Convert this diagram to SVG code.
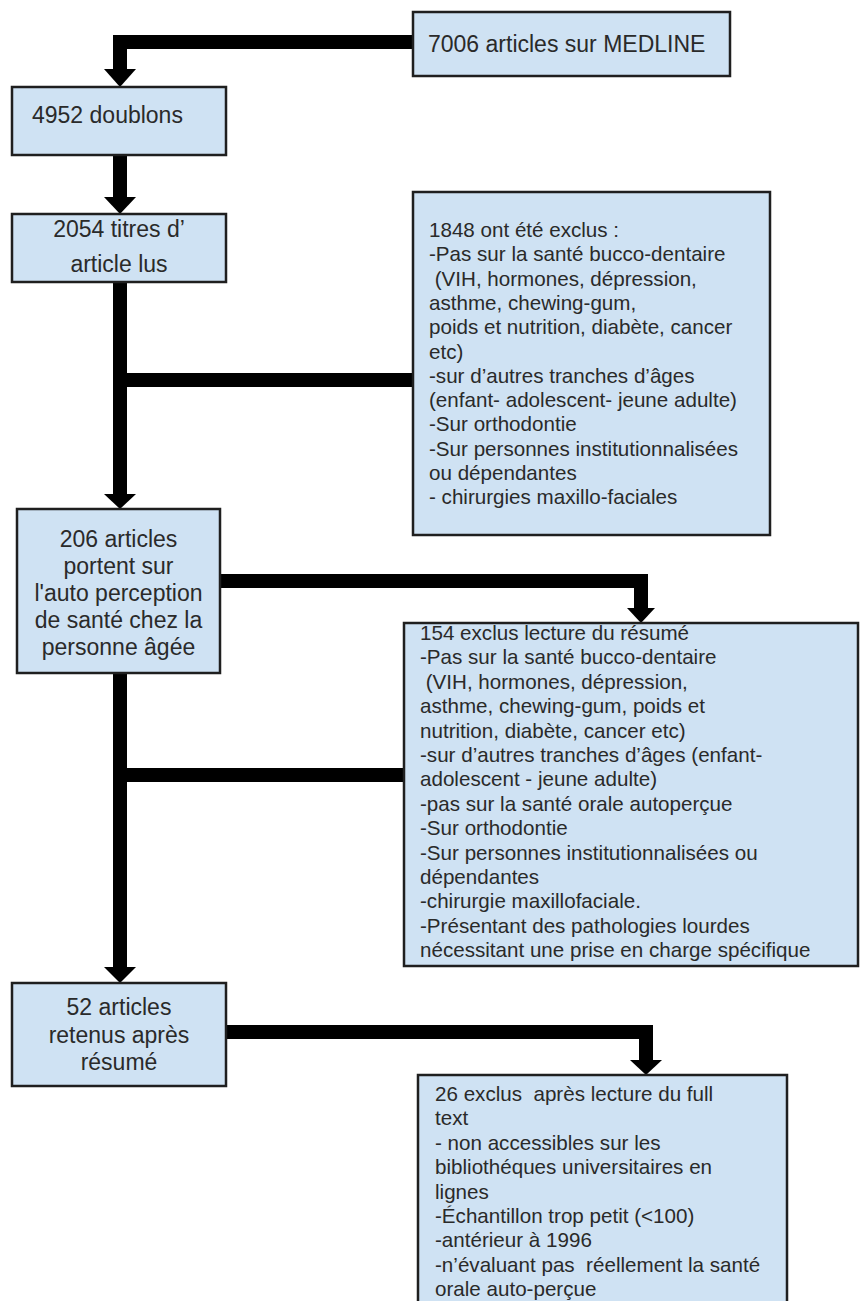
<svg xmlns="http://www.w3.org/2000/svg" width="860" height="1301" viewBox="0 0 860 1301">
<style>
.box{fill:#cfe2f3;stroke:#1f1f1f;stroke-width:2.5}
.t{font-family:"Liberation Sans",Arial,sans-serif;fill:#2a2a2a}
.big{font-size:23px}
.sm{font-size:20.6px}
.c{text-anchor:middle}
.ln{fill:none;stroke:#000;stroke-width:14;stroke-linejoin:miter}
.ah{fill:#000}
</style>
<rect width="860" height="1301" fill="#fff"/>
<g id="connectors">
<path class="ln" d="M413 42 H120 V71"/>
<polygon class="ah" points="104,69 136,69 120,87"/>
<path class="ln" d="M120 155 V199"/>
<polygon class="ah" points="104,197 136,197 120,214"/>
<path class="ln" d="M120 282 V496"/>
<polygon class="ah" points="104,494 136,494 120,509"/>
<path class="ln" d="M113 380 H413"/>
<path class="ln" d="M220 581 H641 V610"/>
<polygon class="ah" points="627,608 655,608 641,623"/>
<path class="ln" d="M120 673 V969"/>
<polygon class="ah" points="104,967 136,967 120,983"/>
<path class="ln" d="M113 775 H404"/>
<path class="ln" d="M226 1032 H646 V1062"/>
<polygon class="ah" points="630,1060 662,1060 646,1075"/>
</g>
<g id="n1">
<rect class="box" x="413" y="12" width="317" height="64"/>
<text class="t big" x="428" y="52">7006 articles sur MEDLINE</text>
</g>
<g id="n2">
<rect class="box" x="12" y="87" width="214" height="68"/>
<text class="t big" x="32" y="123">4952 doublons</text>
</g>
<g id="n3">
<rect class="box" x="12" y="214" width="214" height="68"/>
<text class="t big c" x="119" y="237">2054 titres d’</text>
<text class="t big c" x="119" y="272">article lus</text>
</g>
<g id="n4">
<rect class="box" x="17" y="509" width="203" height="164"/>
<text class="t big c" x="118.5" y="547">206 articles</text>
<text class="t big c" x="118.5" y="574">portent sur</text>
<text class="t big c" x="118.5" y="601">l'auto perception</text>
<text class="t big c" x="118.5" y="628">de santé chez la</text>
<text class="t big c" x="118.5" y="655">personne âgée</text>
</g>
<g id="n5">
<rect class="box" x="413" y="192" width="357" height="343"/>
<text class="t sm" x="429" y="237">1848 ont été exclus :</text>
<text class="t sm" x="429" y="261.3">-Pas sur la santé bucco-dentaire</text>
<text class="t sm" x="429" y="285.6" xml:space="preserve"> (VIH, hormones, dépression,</text>
<text class="t sm" x="429" y="309.9">asthme, chewing-gum,</text>
<text class="t sm" x="429" y="334.2">poids et nutrition, diabète, cancer</text>
<text class="t sm" x="429" y="358.5">etc)</text>
<text class="t sm" x="429" y="382.8">-sur d’autres tranches d’âges</text>
<text class="t sm" x="429" y="407.1">(enfant- adolescent- jeune adulte)</text>
<text class="t sm" x="429" y="431.4">-Sur orthodontie</text>
<text class="t sm" x="429" y="455.7">-Sur personnes institutionnalisées</text>
<text class="t sm" x="429" y="480">ou dépendantes</text>
<text class="t sm" x="429" y="504.3">- chirurgies maxillo-faciales</text>
</g>
<g id="n6">
<rect class="box" x="404" y="623" width="454" height="343"/>
<text class="t sm" x="420" y="640">154 exclus lecture du résumé</text>
<text class="t sm" x="420" y="664.4">-Pas sur la santé bucco-dentaire</text>
<text class="t sm" x="420" y="688.8" xml:space="preserve"> (VIH, hormones, dépression,</text>
<text class="t sm" x="420" y="713.2">asthme, chewing-gum, poids et</text>
<text class="t sm" x="420" y="737.6">nutrition, diabète, cancer etc)</text>
<text class="t sm" x="420" y="762">-sur d’autres tranches d’âges (enfant-</text>
<text class="t sm" x="420" y="786.4">adolescent - jeune adulte)</text>
<text class="t sm" x="420" y="810.8">-pas sur la santé orale autoperçue</text>
<text class="t sm" x="420" y="835.2">-Sur orthodontie</text>
<text class="t sm" x="420" y="859.6">-Sur personnes institutionnalisées ou</text>
<text class="t sm" x="420" y="884">dépendantes</text>
<text class="t sm" x="420" y="908.4">-chirurgie maxillofaciale.</text>
<text class="t sm" x="420" y="932.8">-Présentant des pathologies lourdes</text>
<text class="t sm" x="420" y="957.2">nécessitant une prise en charge spécifique</text>
</g>
<g id="n7">
<rect class="box" x="12" y="983" width="214" height="103"/>
<text class="t big c" x="119" y="1015">52 articles</text>
<text class="t big c" x="119" y="1043">retenus après</text>
<text class="t big c" x="119" y="1070">résumé</text>
</g>
<g id="n8">
<rect class="box" x="418" y="1075" width="369" height="240"/>
<text class="t sm" x="435" y="1101" xml:space="preserve">26 exclus  après lecture du full</text>
<text class="t sm" x="435" y="1125.4">text</text>
<text class="t sm" x="435" y="1149.8">- non accessibles sur les</text>
<text class="t sm" x="435" y="1174.2">bibliothéques universitaires en</text>
<text class="t sm" x="435" y="1198.6">lignes</text>
<text class="t sm" x="435" y="1223">-Échantillon trop petit (&lt;100)</text>
<text class="t sm" x="435" y="1247.4">-antérieur à 1996</text>
<text class="t sm" x="435" y="1271.8" xml:space="preserve">-n’évaluant pas  réellement la santé</text>
<text class="t sm" x="435" y="1296.2">orale auto-perçue</text>
</g>
</svg>
